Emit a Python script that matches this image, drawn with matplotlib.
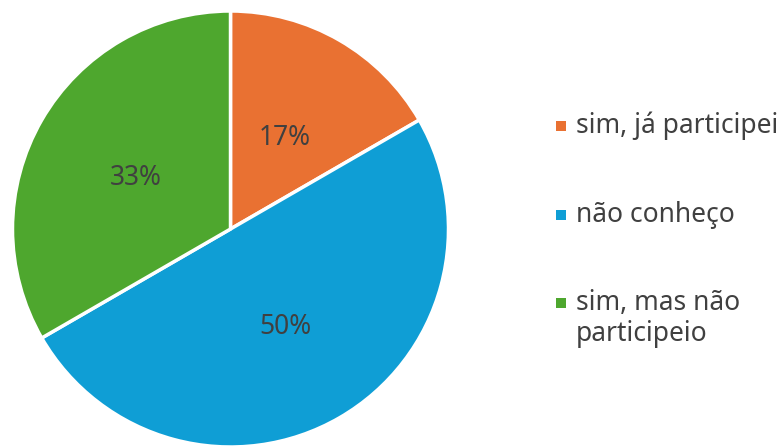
import matplotlib.pyplot as plt
from matplotlib.patches import Rectangle

labels = ["sim, já participei", "não conheço", "sim, mas não\nparticipeio"]
values = [1, 3, 2]
colors = ["#E97132", "#0F9ED5", "#4EA72E"]

plt.rcParams['font.family'] = ['Noto Sans', 'DejaVu Sans']
text_color = "#404040"

fig = plt.figure(figsize=(7.79, 4.46), dpi=100)
W, H = 779, 446

# pie area (pixel box: x 12..449, y 12..446 from top)
ax = fig.add_axes([11 / W, -1 / H, 439 / W, 436 / H])
wedges, texts, autotexts = ax.pie(
    values, colors=colors, startangle=90, counterclock=False,
    autopct="%1.0f%%", pctdistance=0.5,
    wedgeprops=dict(edgecolor="white", linewidth=2.5),
    textprops=dict(color=text_color, fontsize=19))
for t in autotexts:
    t.set_va("center_baseline")
ax.set_xlim(-1, 1)
ax.set_ylim(-1, 1)
ax.set_aspect("equal")
ax.axis("off")

# legend drawn by hand so the marker sits on the first line of text
marker_y = [126, 215, 303]
for lab, col, my in zip(labels, colors, marker_y):
    fig.patches.append(Rectangle((556 / W, 1 - (my + 5) / H), 10 / W, 10 / H,
                                 facecolor=col, edgecolor="none",
                                 transform=fig.transFigure, figure=fig))
    for k, line in enumerate(lab.split("\n")):
        fig.text(576 / W, 1 - (my + 7 + 31 * k) / H, line, fontsize=19,
                 color=text_color, va="baseline", ha="left")

fig.savefig("out.png", dpi=100)
